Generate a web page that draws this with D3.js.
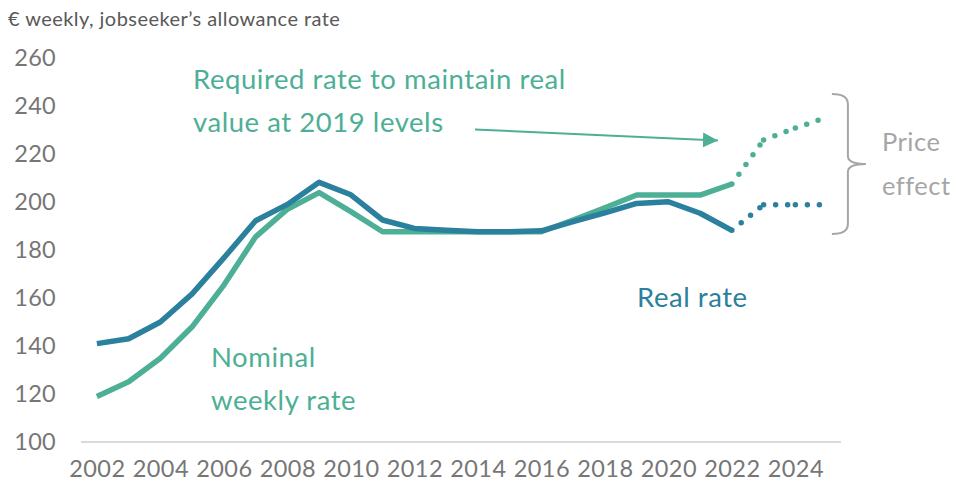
<!DOCTYPE html>
<html>
<head>
<meta charset="utf-8">
<script src="https://cdn.jsdelivr.net/npm/d3@7"></script>
<style>
  html, body { margin: 0; padding: 0; background: #ffffff; }
  svg { display: block; font-family: Lato, "Open Sans", sans-serif; }
</style>
</head>
<body>
<svg id="chart" width="956" height="486"></svg>
<script>
// Jobseeker's allowance, € per week
const years = [2002, 2003, 2004, 2005, 2006, 2007, 2008, 2009, 2010, 2011, 2012,
               2013, 2014, 2015, 2016, 2017, 2018, 2019, 2020, 2021, 2022];
const realRate =    [141, 143, 150, 161.7, 176.7, 192.2, 199, 208.2, 203, 192.5, 189,
                     188.2, 187.6, 187.6, 188, 191.8, 195.5, 199.4, 200.1, 195.3, 188.2];
const nominalRate = [119, 125.1, 134.9, 148, 165.4, 185.5, 197, 203.9, 196, 187.6, 187.6,
                     187.6, 187.6, 187.6, 187.6, 192.5, 197.6, 202.9, 202.9, 202.9, 207.5];

// Projections from 2022 onwards
const projYears = [2022, 2023, 2024, 2025];
const projRequired = [207.5, 225.8, 230.8, 235.4];
const projReal = [188.2, 198.9, 198.9, 198.9];

const xTicks = [2002, 2004, 2006, 2008, 2010, 2012, 2014, 2016, 2018, 2020, 2022, 2024];
const yTicks = [100, 120, 140, 160, 180, 200, 220, 240, 260];

const BLUE = "#2a809d";
const GREEN = "#4daf95";
const GREY_TEXT = "#767676";
const BRACE = "#a6a6a6";

const svg = d3.select("#chart");

const x = d3.scaleLinear().domain([2001.5, 2025.5]).range([81, 843]);
const y = d3.scaleLinear().domain([100, 260]).range([442, 58]);

// Subtitle
svg.append("text")
  .attr("x", 8).attr("y", 26)
  .attr("fill", "#595959")
  .attr("font-size", 20)
  .attr("letter-spacing", 0.45)
  .text("€ weekly, jobseeker’s allowance rate");

// Y axis: labels only
const yAxis = svg.append("g")
  .attr("transform", `translate(${x.range()[0] - 25},0)`)
  .call(d3.axisLeft(y).tickValues(yTicks).tickSize(0).tickPadding(0));
yAxis.select(".domain").remove();
yAxis.selectAll("text")
  .attr("fill", GREY_TEXT)
  .attr("font-size", 23.5)
  .attr("letter-spacing", 0.3)
  .attr("font-family", "Lato, sans-serif");

// X axis: baseline plus labels
const xAxis = svg.append("g")
  .attr("transform", `translate(0,${y(100)})`)
  .call(d3.axisBottom(x).tickValues(xTicks).tickFormat(d3.format("d")).tickSize(0).tickPadding(18));
xAxis.select(".domain")
  .attr("stroke", "#d9d9d9")
  .attr("stroke-width", 2)
  .attr("d", `M${x.range()[0]},0H${x.range()[1] - 2}`);
xAxis.selectAll("text")
  .attr("fill", GREY_TEXT)
  .attr("font-size", 23.5)
  .attr("letter-spacing", 0.4)
  .attr("font-family", "Lato, sans-serif");

const line = d3.line().x(d => x(d[0])).y(d => y(d[1]));

function drawSolid(values, colour) {
  svg.append("path")
    .datum(years.map((yr, i) => [yr, values[i]]))
    .attr("fill", "none")
    .attr("stroke", colour)
    .attr("stroke-width", 5.5)
    .attr("stroke-linejoin", "round")
    .attr("d", line);
}

// Dotted projection: one path per year so each segment starts its own dot pattern
function drawDotted(values, colour) {
  for (let i = 0; i < projYears.length - 1; i++) {
    svg.append("path")
      .datum([[projYears[i], values[i]], [projYears[i + 1], values[i + 1]]])
      .attr("fill", "none")
      .attr("stroke", colour)
      .attr("stroke-width", 5.5)
      .attr("stroke-linecap", "round")
      .attr("stroke-dasharray", "0 12")
      .attr("d", line);
  }
}

drawDotted(projRequired, GREEN);
drawDotted(projReal, BLUE);
drawSolid(nominalRate, GREEN);
drawSolid(realRate, BLUE);

// Annotations
const annot = svg.append("g").attr("font-family", "Lato, sans-serif");
const labelSize = 27.5, labelSpacing = 0.55;

annot.append("text").attr("x", 193).attr("y", 89)
  .attr("fill", GREEN).attr("font-size", labelSize).attr("letter-spacing", labelSpacing)
  .text("Required rate to maintain real");
annot.append("text").attr("x", 193).attr("y", 132)
  .attr("fill", GREEN).attr("font-size", labelSize).attr("letter-spacing", labelSpacing)
  .text("value at 2019 levels");

// Arrow pointing at the required-rate projection
const defs = svg.append("defs");
defs.append("marker")
  .attr("id", "arrowhead")
  .attr("viewBox", "0 0 10 10")
  .attr("refX", 10).attr("refY", 5)
  .attr("markerWidth", 7.5).attr("markerHeight", 7.5)
  .attr("markerUnits", "strokeWidth")
  .attr("orient", "auto")
  .append("path")
  .attr("d", "M0,0L10,5L0,10Z")
  .attr("fill", GREEN);

annot.append("line")
  .attr("x1", 475).attr("y1", 129.5)
  .attr("x2", x(2021.56)).attr("y2", y(225.6))
  .attr("stroke", GREEN)
  .attr("stroke-width", 2)
  .attr("marker-end", "url(#arrowhead)");

annot.append("text").attr("x", 211).attr("y", 367)
  .attr("fill", GREEN).attr("font-size", labelSize).attr("letter-spacing", labelSpacing)
  .text("Nominal");
annot.append("text").attr("x", 211).attr("y", 410)
  .attr("fill", GREEN).attr("font-size", labelSize).attr("letter-spacing", labelSpacing)
  .text("weekly rate");

annot.append("text").attr("x", 637).attr("y", 307)
  .attr("fill", BLUE).attr("font-size", labelSize).attr("letter-spacing", labelSpacing)
  .text("Real rate");

// Brace spanning the gap between the two projections
const bx0 = x(2025.15), bx1 = bx0 + 16, bx2 = bx0 + 34;
const bTop = y(245), bBot = y(186.7), bMid = (bTop + bBot) / 2;
annot.append("path")
  .attr("d", `M${bx0},${bTop} Q${bx1},${bTop} ${bx1},${bTop + 10}
              L${bx1},${bMid - 8} Q${bx1},${bMid} ${bx2},${bMid}
              Q${bx1},${bMid} ${bx1},${bMid + 8}
              L${bx1},${bBot - 10} Q${bx1},${bBot} ${bx0},${bBot}`)
  .attr("fill", "none")
  .attr("stroke", BRACE)
  .attr("stroke-width", 2);

annot.append("text").attr("x", 882).attr("y", 151)
  .attr("fill", BRACE).attr("font-size", 25.5).attr("letter-spacing", 0.5)
  .text("Price");
annot.append("text").attr("x", 882).attr("y", 195)
  .attr("fill", BRACE).attr("font-size", 25.5).attr("letter-spacing", 0.5)
  .text("effect");
</script>
</body>
</html>
